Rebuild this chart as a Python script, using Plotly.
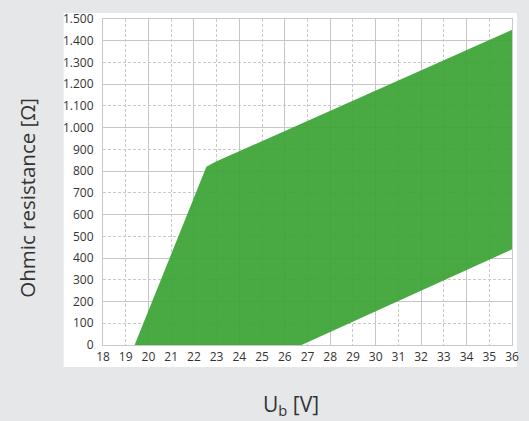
import plotly.graph_objects as go

# Data: operating region boundaries (Ub in V, resistance in Ohm)
upper_u = [19.39, 22.55, 22.75, 23.0, 36.0]
upper_r = [0, 820, 832, 845, 1450]
lower_u = [19.39, 26.74, 36.0]
lower_r = [0, 0, 440]

x_ticks = list(range(18, 37))
y_ticks = list(range(0, 1501, 100))
y_ticktext = ["0"] + [str(v) for v in range(100, 1000, 100)] + [
    "1.000", "1.100", "1.200", "1.300", "1.400", "1.500"]

poly_x = upper_u + lower_u[::-1]
poly_y = upper_r + lower_r[::-1]

fig = go.Figure()
fig.add_trace(go.Scatter(
    x=poly_x, y=poly_y, fill="toself", mode="lines",
    line=dict(width=0, color="rgba(0,0,0,0)"),
    fillcolor="rgba(58,163,52,0.92)", hoverinfo="skip", showlegend=False))
# invisible trace for the overlay (solid grid) axes
fig.add_trace(go.Scatter(x=[18, 36], y=[0, 1500], xaxis="x2", yaxis="y2",
                         mode="markers", marker=dict(opacity=0), showlegend=False,
                         hoverinfo="skip"))

grid_dash = "#c9c9c9"
grid_solid = "#c6c6c6"
tickfont = dict(family="Open Sans", size=12, color="#333333")

fig.update_layout(
    width=529, height=421,
    margin=dict(l=103, r=10, t=18, b=76),
    paper_bgcolor="#e6e7e8",
    plot_bgcolor="rgba(0,0,0,0)",
    showlegend=False,
    xaxis=dict(range=[18, 36], tickvals=x_ticks, ticktext=[str(v) for v in x_ticks],
               showgrid=True, gridcolor=grid_dash, griddash="3px,2px", gridwidth=1,
               zeroline=False, showline=True, linecolor="#c8c8c8", mirror=True,
               ticks="outside", ticklen=1, tickcolor="rgba(0,0,0,0)",
               tickfont=tickfont),
    yaxis=dict(range=[0, 1500], tickvals=y_ticks, ticktext=y_ticktext,
               showgrid=True, gridcolor=grid_dash, griddash="3px,2px", gridwidth=1,
               zeroline=False, showline=True, linecolor="#c8c8c8", mirror=True,
               ticks="outside", ticklen=6, tickcolor="rgba(0,0,0,0)",
               tickfont=tickfont),
    xaxis2=dict(range=[18, 36], dtick=2, tick0=18, overlaying="x", anchor="y2",
                showgrid=True, gridcolor=grid_solid, gridwidth=1, showticklabels=False,
                zeroline=False, ticks=""),
    yaxis2=dict(range=[0, 1500], dtick=200, tick0=0, overlaying="y", anchor="x2",
                showgrid=True, gridcolor=grid_solid, gridwidth=1, showticklabels=False,
                zeroline=False, ticks=""),
    shapes=[dict(type="rect", xref="paper", yref="paper", layer="below",
                 x0=-40 / 416, x1=1 + 5 / 416, y0=-22 / 327, y1=1 + 6 / 327,
                 fillcolor="white", line=dict(width=0))],
    annotations=[
        dict(text="U<sub>b</sub> [V]", xref="paper", yref="paper",
             x=(294 - 103) / 416, y=-(405 - 345) / 327, showarrow=False,
             xanchor="center", yanchor="middle",
             font=dict(family="Open Sans", size=21, color="#333333")),
        dict(text="Ohmic resistance [Ω]", xref="paper", yref="paper",
             x=-(103 - 26) / 416, y=(345 - 197) / 327, showarrow=False, textangle=-90,
             xanchor="center", yanchor="middle",
             font=dict(family="Open Sans", size=20.5, color="#333333")),
    ],
)

fig.write_html("out.html", config={"displayModeBar": False})
with open("out.html", encoding="utf-8") as f:
    html = f.read()
html = html.replace("<body>", "<body style=\"margin:0;overflow:hidden\">", 1)
with open("out.html", "w", encoding="utf-8") as f:
    f.write(html)
